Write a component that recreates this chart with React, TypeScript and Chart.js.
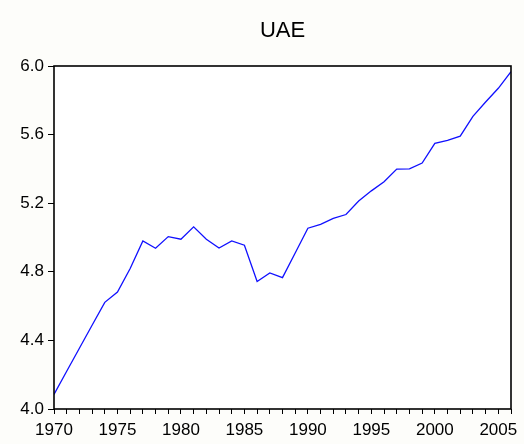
import React, { useEffect, useRef } from "react";
import { Chart, registerables } from "chart.js";

Chart.register(...registerables);

const years: number[] = [
  1970, 1971, 1972, 1973, 1974, 1975, 1976, 1977, 1978, 1979,
  1980, 1981, 1982, 1983, 1984, 1985, 1986, 1987, 1988, 1989,
  1990, 1991, 1992, 1993, 1994, 1995, 1996, 1997, 1998, 1999,
  2000, 2001, 2002, 2003, 2004, 2005, 2006,
];
const uae: number[] = [
  4.085, 4.22, 4.354, 4.488, 4.622, 4.682, 4.819, 4.98, 4.937, 5.005,
  4.99, 5.062, 4.99, 4.939, 4.98, 4.955, 4.743, 4.793, 4.766, 4.91,
  5.054, 5.077, 5.112, 5.134, 5.213, 5.272, 5.325, 5.399, 5.4, 5.434,
  5.549, 5.566, 5.591, 5.706, 5.79, 5.87, 5.967,
];
const titleText = "UAE";
const yMin = 4.0;
const yMax = 6.0;
const yStep = 0.4;
const xMin = 1970;
const xMax = 2006;

export default function App() {
  const ref = useRef<HTMLCanvasElement | null>(null);
  useEffect(() => {
    if (!ref.current) return;
    const framePlugin = {
      id: "frame",
      beforeDraw(chart: any) {
        const { ctx, chartArea } = chart;
        ctx.save();
        ctx.fillStyle = "#fdfdfa";
        ctx.fillRect(0, 0, chart.width, chart.height);
        ctx.fillStyle = "#ffffff";
        ctx.fillRect(chartArea.left, chartArea.top, chartArea.right - chartArea.left, chartArea.bottom - chartArea.top);
        ctx.restore();
      },
      afterDatasetsDraw(chart: any) {
        const { ctx, chartArea } = chart;
        ctx.save();
        ctx.strokeStyle = "#000000";
        ctx.lineWidth = 1.6;
        ctx.strokeRect(chartArea.left, chartArea.top, chartArea.right - chartArea.left, chartArea.bottom - chartArea.top);
        ctx.fillStyle = "#000000";
        ctx.font = "22px 'Liberation Sans', Arial, sans-serif";
        ctx.textAlign = "center";
        ctx.textBaseline = "middle";
        ctx.fillText(titleText, (chartArea.left + chartArea.right) / 2, 31);
        ctx.restore();
      },
    };
    const chart = new Chart(ref.current, {
      type: "line",
      data: {
        labels: years,
        datasets: [
          {
            data: years.map((y, i) => ({ x: y, y: uae[i] })),
            borderColor: "#1010ff",
            borderWidth: 1.3,
            pointRadius: 0,
            tension: 0,
            fill: false,
          },
        ],
      },
      options: {
        responsive: false,
        animation: false,
        layout: { padding: { top: 66, right: 13, left: 0, bottom: 0 } },
        plugins: { legend: { display: false }, title: { display: false }, tooltip: { enabled: false } },
        scales: {
          x: {
            type: "linear",
            min: xMin,
            max: xMax,
            afterFit(scale: any) {
              scale.height = 35;
            },
            ticks: {
              stepSize: 1,
              autoSkip: false,
              maxRotation: 0,
              padding: 6,
              color: "#000000",
              font: { family: "'Liberation Sans', Arial, sans-serif", size: 17 },
              callback: (v: any) => (Number(v) % 5 === 0 ? String(v) : ""),
            },
            grid: { drawOnChartArea: false, drawTicks: true, tickLength: 5, color: "#000000", lineWidth: 1 },
            border: { display: false },
          },
          y: {
            type: "linear",
            min: yMin,
            max: yMax,
            afterFit(scale: any) {
              scale.width = 54;
            },
            ticks: {
              stepSize: yStep,
              padding: 4,
              color: "#000000",
              font: { family: "'Liberation Sans', Arial, sans-serif", size: 17 },
              callback: (v: any) => Number(v).toFixed(1),
            },
            grid: { drawOnChartArea: false, drawTicks: true, tickLength: 6, color: "#000000", lineWidth: 1 },
            border: { display: false },
          },
        },
      },
      plugins: [framePlugin],
    });
    return () => chart.destroy();
  }, []);
  return (
    <div style={{ position: "absolute", left: 0, top: 0, width: 524, height: 444 }}>
      <canvas ref={ref} width={524} height={444} style={{ width: 524, height: 444 }} />
    </div>
  );
}
